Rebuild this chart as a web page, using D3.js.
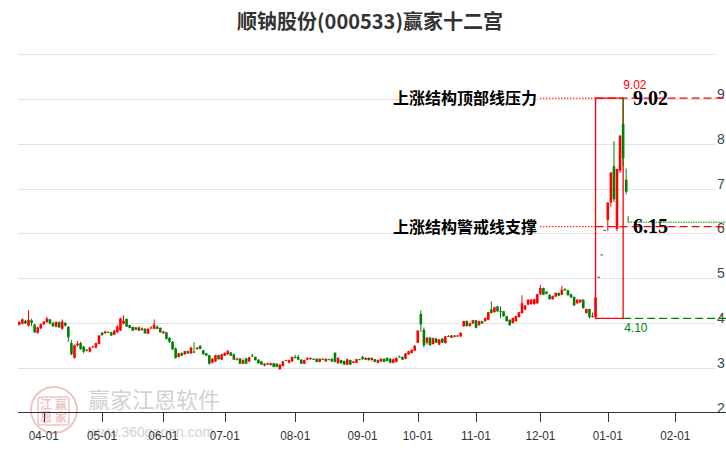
<!DOCTYPE html>
<html><head><meta charset="utf-8">
<script src="https://cdn.jsdelivr.net/npm/d3@7/dist/d3.min.js"></script>
<style>body{margin:0;background:#fff}svg{display:block}</style>
</head><body><svg id="c" width="726" height="450"></svg>
<script>
const titleText = "顺钠股份(000533)赢家十二宫";
const open=[3.96,3.98,4.05,3.94,4.06,3.96,3.78,3.88,3.97,4.02, 4.08,4.00,3.92,4.02,3.87,4.00,3.91,3.55,3.22,3.50, 3.55,3.47,3.40,3.36,3.46,3.45,3.53,3.78,3.77,3.80, 3.79,3.74,3.79,3.83,3.98,4.09,3.95,3.91,3.85,3.90, 3.84,3.87,3.76,3.89,3.87,3.92,3.89,3.77,3.79,3.67, 3.58,3.43,3.24,3.33,3.30,3.37,3.32,3.36,3.42,3.49, 3.39,3.32,3.28,3.11,3.14,3.28,3.18,3.27,3.30,3.34, 3.30,3.19,3.21,3.09,3.21,3.14,3.27,3.24,3.18,3.14, 3.05,3.10,3.06,3.10,3.09,2.97,3.04,3.17,3.11,3.14, 3.24,3.24,3.18,3.09,3.18,3.19,3.20,3.20,3.13,3.20, 3.14,3.19,3.20,3.33,3.10,3.17,3.15,3.07,3.17,3.11, 3.11,3.19,3.24,3.18,3.22,3.17,3.19,3.11,3.14,3.20, 3.22,3.20,3.11,3.13,3.25,3.24,3.20,3.30,3.33,3.38, 3.56,4.20,3.85,3.56,3.67,3.53,3.65,3.52,3.65,3.55, 3.71,3.67,3.72,3.70,3.70,3.93,4.04,3.93,3.99,4.06, 3.95,4.04,4.04,4.07,4.30,4.24,4.37,4.27,4.26,4.15, 4.07,4.00,4.04,4.13,4.22,4.30,4.41,4.42,4.42,4.44, 4.64,4.78,4.70,4.63,4.53,4.59,4.67,4.63,4.76,4.73, 4.64,4.58,4.44,4.46,4.52,4.22,4.31,4.13,4.13,5.03, 5.53,6.08,6.30,6.69,7.50,6.10,7.40,8.45,7.20];
const high=[4.04,4.10,4.07,4.28,4.09,3.98,3.92,3.99,4.04,4.14, 4.09,4.03,4.04,4.03,4.08,4.02,3.93,3.62,3.52,3.60, 3.58,3.49,3.42,3.47,3.49,3.56,3.73,3.80,3.83,3.81, 3.80,3.84,3.95,4.12,4.17,4.10,3.96,3.92,3.91,3.92, 3.90,3.88,3.88,3.93,4.08,3.94,3.90,3.82,3.80,3.68, 3.60,3.45,3.33,3.34,3.38,3.38,3.47,3.57,3.46,3.50, 3.40,3.33,3.29,3.21,3.29,3.29,3.31,3.34,3.40,3.35, 3.32,3.23,3.22,3.19,3.22,3.24,3.31,3.25,3.19,3.15, 3.10,3.11,3.11,3.11,3.10,3.08,3.15,3.18,3.18,3.25, 3.29,3.29,3.19,3.18,3.23,3.23,3.21,3.21,3.21,3.21, 3.21,3.20,3.21,3.35,3.23,3.18,3.16,3.20,3.18,3.15, 3.20,3.20,3.27,3.23,3.23,3.23,3.20,3.18,3.21,3.21, 3.23,3.21,3.20,3.23,3.27,3.25,3.33,3.38,3.41,3.50, 3.84,4.28,3.90,3.68,3.69,3.67,3.67,3.64,3.66,3.71, 3.73,3.73,3.73,3.73,3.79,4.05,4.06,4.01,4.07,4.07, 4.05,4.05,4.12,4.25,4.48,4.36,4.38,4.37,4.27,4.16, 4.08,4.12,4.16,4.25,4.62,4.40,4.53,4.53,4.54,4.65, 4.85,4.79,4.71,4.64,4.61,4.68,4.68,4.83,4.77,4.74, 4.65,4.59,4.53,4.53,4.53,4.32,4.32,4.23,4.57,5.03, 5.53,6.08,6.69,7.36,8.06,7.44,8.20,9.02,7.45];
const low=[3.94,3.97,3.98,3.92,3.93,3.78,3.76,3.86,3.96,4.00, 3.97,3.91,3.90,3.89,3.85,3.92,3.58,3.28,3.20,3.47, 3.40,3.32,3.36,3.34,3.44,3.43,3.52,3.71,3.76,3.78, 3.71,3.73,3.78,3.82,3.97,3.91,3.88,3.82,3.84,3.82, 3.83,3.76,3.75,3.86,3.86,3.86,3.78,3.76,3.63,3.55, 3.40,3.20,3.23,3.26,3.29,3.31,3.31,3.33,3.40,3.41, 3.29,3.26,3.07,3.10,3.13,3.18,3.17,3.26,3.29,3.26, 3.17,3.16,3.08,3.08,3.08,3.13,3.25,3.16,3.09,3.06, 3.03,3.06,3.05,3.01,3.01,2.95,3.03,3.15,3.10,3.13, 3.21,3.17,3.08,3.08,3.17,3.18,3.18,3.12,3.12,3.18, 3.13,3.17,3.13,3.12,3.09,3.09,3.06,3.06,3.06,3.10, 3.10,3.17,3.18,3.17,3.16,3.16,3.12,3.10,3.13,3.12, 3.14,3.10,3.10,3.12,3.23,3.17,3.19,3.29,3.32,3.37, 3.55,3.80,3.45,3.52,3.49,3.52,3.55,3.50,3.55,3.54, 3.69,3.66,3.68,3.69,3.69,3.91,3.92,3.92,3.98,3.88, 3.94,3.98,4.03,4.06,4.21,4.23,4.25,4.11,4.14,4.03, 3.94,3.99,4.03,4.12,4.21,4.29,4.40,4.41,4.41,4.43, 4.63,4.62,4.64,4.52,4.52,4.58,4.60,4.62,4.72,4.61, 4.56,4.38,4.43,4.45,4.32,4.21,4.10,4.12,4.10,5.03, 5.53,6.08,6.05,6.60,6.70,6.05,7.35,7.50,6.87];
const close=[4.02,4.08,3.99,4.07,4.00,3.79,3.90,3.97,4.03,4.10, 3.99,3.93,4.02,3.90,4.03,3.94,3.68,3.30,3.50,3.54, 3.42,3.36,3.39,3.45,3.48,3.55,3.72,3.73,3.81,3.79, 3.72,3.83,3.92,4.10,4.05,3.92,3.89,3.83,3.90,3.83, 3.88,3.77,3.87,3.90,3.96,3.87,3.79,3.81,3.64,3.58, 3.41,3.22,3.32,3.27,3.37,3.32,3.45,3.35,3.45,3.42, 3.30,3.27,3.09,3.20,3.28,3.19,3.30,3.33,3.37,3.27, 3.18,3.20,3.09,3.17,3.09,3.23,3.26,3.17,3.10,3.07, 3.09,3.07,3.10,3.02,3.02,3.07,3.14,3.16,3.17,3.24, 3.22,3.18,3.09,3.17,3.22,3.22,3.19,3.13,3.20,3.19, 3.20,3.18,3.14,3.13,3.22,3.10,3.07,3.19,3.07,3.14, 3.19,3.18,3.19,3.22,3.17,3.22,3.13,3.17,3.20,3.13, 3.15,3.11,3.19,3.22,3.24,3.18,3.32,3.37,3.40,3.49, 3.83,3.97,3.50,3.67,3.50,3.66,3.56,3.63,3.56,3.70, 3.70,3.72,3.69,3.72,3.78,4.04,3.93,3.99,4.06,3.89, 4.04,3.99,4.11,4.24,4.22,4.35,4.26,4.26,4.15,4.04, 3.95,4.11,4.15,4.24,4.44,4.39,4.52,4.52,4.53,4.64, 4.78,4.63,4.65,4.53,4.60,4.67,4.61,4.74,4.73,4.62, 4.57,4.39,4.52,4.52,4.33,4.31,4.13,4.15,4.57,5.03, 5.53,6.08,6.69,7.36,6.76,7.44,8.18,7.68,6.93];
const tickLabels=["04-01","05-01","06-01","07-01","08-01","09-01","10-01","11-01","12-01","01-01","02-01"];
const tickIndex=[8,27,47,67,90,112,130,149,170,192,214];
const yLabels=[2,3,4,5,6,7,8,9];
const gridValues=[3,4,5,6,7,8,9,10];
const topPrice=9.02, supportPrice=6.15, basePrice=4.10, markPrice=6.25;
const topLabel="上涨结构顶部线压力", supportLabel="上涨结构警戒线支撑";
const rectStart=188, rectEnd=197;
const wmTitle="赢家江恩软件", wmUrl="www.360ganen.com", wmStamp=["江","赢","恩","家"];

const W=726,H=450, RED="#ff0000", GREEN="#008000";
const svg=d3.select("#c");
const N=open.length;
const x=d3.scaleLinear().domain([0,N-1]).range([19.3,626.2]);
const y=d3.scaleLinear().domain([2,10]).range([412.5,54.3]);
const py=v=>Math.round(y(v))+0.5;

// watermark
const wm=svg.append("g");
wm.append("circle").attr("cx",54).attr("cy",410).attr("r",23).attr("fill","none").attr("stroke","#eec4c4").attr("stroke-width",2);
wm.append("rect").attr("x",38).attr("y",397).attr("width",31).attr("height",28).attr("rx",3).attr("fill","none").attr("stroke","#eec4c4").attr("stroke-width",1.5);
wmStamp.forEach((c,i)=>{
  wm.append("text").attr("x",46+(i%2)*15).attr("y",409+Math.floor(i/2)*13).attr("text-anchor","middle")
    .attr("font-family","Noto Sans CJK SC").attr("font-size",12).attr("font-weight","bold").attr("fill","#eec4c4").text(c);
});
wm.append("text").attr("x",88).attr("y",408).attr("font-family","Noto Sans CJK SC").attr("font-size",22).attr("fill","#d2d2d2").text(wmTitle);
wm.append("text").attr("x",88).attr("y",437).attr("font-family","Liberation Sans, Arial").attr("font-size",14).attr("fill","#d2d2d2").text(wmUrl);

// grid
svg.append("g").selectAll("line").data(gridValues).join("line")
  .attr("x1",18).attr("x2",716).attr("y1",d=>py(d)).attr("y2",d=>py(d))
  .attr("stroke","#e2e2e2").attr("stroke-width",1);

// right labels
svg.append("g").selectAll("text").data(yLabels).join("text")
  .attr("x",717).attr("y",d=>y(d)).attr("font-family","Liberation Sans, Arial").attr("font-size",14)
  .attr("fill","#444").text(d=>d);

// x axis
svg.append("line").attr("x1",18).attr("x2",W).attr("y1",412.5).attr("y2",412.5).attr("stroke","#333");
const xt=svg.append("g").selectAll("g").data(tickIndex).join("g");
xt.append("line").attr("x1",d=>Math.round(x(d))+0.5).attr("x2",d=>Math.round(x(d))+0.5)
  .attr("y1",413).attr("y2",422).attr("stroke","#333");
xt.append("text").attr("x",d=>x(d)).attr("y",440).attr("text-anchor","middle")
  .attr("font-family","Liberation Sans, Arial").attr("font-size",13).attr("fill","#333")
  .attr("textLength",30).attr("lengthAdjust","spacingAndGlyphs")
  .text((d,i)=>tickLabels[i]);

// title
svg.append("text").attr("x",370).attr("y",29).attr("text-anchor","middle")
  .attr("font-family","Noto Sans CJK SC").attr("font-weight","bold").attr("font-size",20)
  .attr("fill","#333").text(titleText);

// annotation lines (under candles)
const ann=svg.append("g");
const xs=x(rectStart), xe=x(rectEnd);
[topPrice,supportPrice].forEach(p=>{
  ann.append("line").attr("x1",540).attr("x2",xs).attr("y1",y(p)).attr("y2",y(p))
    .attr("stroke",RED).attr("stroke-width",1).attr("stroke-dasharray","1.5,1.5");
  ann.append("line").attr("x1",xs).attr("x2",W).attr("y1",y(p)).attr("y2",y(p))
    .attr("stroke",RED).attr("stroke-width",1.2).attr("stroke-dasharray","8,4");
});
ann.append("line").attr("x1",xe).attr("x2",W).attr("y1",y(basePrice)).attr("y2",y(basePrice))
  .attr("stroke",GREEN).attr("stroke-width",1.2).attr("stroke-dasharray","8,4");
ann.append("line").attr("x1",xe+5).attr("x2",xe+5).attr("y1",y(markPrice)-6).attr("y2",y(markPrice))
  .attr("stroke",GREEN).attr("stroke-width",1);
ann.append("line").attr("x1",xe+5).attr("x2",W).attr("y1",y(markPrice)).attr("y2",y(markPrice))
  .attr("stroke",GREEN).attr("stroke-width",1).attr("stroke-dasharray","1.5,1");

// candles
const idx=d3.range(N);
const cg=svg.append("g");
const col=i=>close[i]>open[i]?RED:GREEN;
cg.selectAll("line").data(idx).join("line")
  .attr("x1",i=>x(i)).attr("x2",i=>x(i)).attr("y1",i=>y(high[i])).attr("y2",i=>y(low[i])+0.01)
  .attr("stroke",col).attr("stroke-width",1);
const bw=2.6;
cg.selectAll("rect").data(idx).join("rect")
  .attr("x",i=>x(i)-bw/2).attr("width",bw)
  .attr("y",i=>y(Math.max(open[i],close[i])))
  .attr("height",i=>Math.max(1,Math.abs(y(open[i])-y(close[i]))))
  .attr("fill",col);

// rectangle
ann.append("path").attr("d",`M${xs},${y(topPrice)}H${xe}V${y(basePrice)}H${xs}Z`)
  .attr("fill","none").attr("stroke",RED).attr("stroke-width",1.3);
svg.append("text").attr("x",xe).attr("y",y(topPrice)-9).attr("font-family","Liberation Sans, Arial")
  .attr("font-size",12).attr("fill",RED).text(topPrice.toFixed(2));
svg.append("text").attr("x",xe+1).attr("y",y(basePrice)+14).attr("font-family","Liberation Sans, Arial")
  .attr("font-size",12).attr("fill",GREEN).text(basePrice.toFixed(2));

// labels
[[topLabel,topPrice],[supportLabel,supportPrice]].forEach(([t,p])=>{
  svg.append("text").attr("x",537).attr("y",y(p)+6).attr("text-anchor","end")
    .attr("font-family","Noto Sans CJK SC").attr("font-weight","bold").attr("font-size",16)
    .attr("fill","#000").text(t);
  svg.append("text").attr("x",633).attr("y",y(p)+6.5)
    .attr("font-family","Liberation Serif, DejaVu Serif").attr("font-weight","bold").attr("font-size",20)
    .attr("fill","#000").text(p.toFixed(2));
});
</script></body></html>
